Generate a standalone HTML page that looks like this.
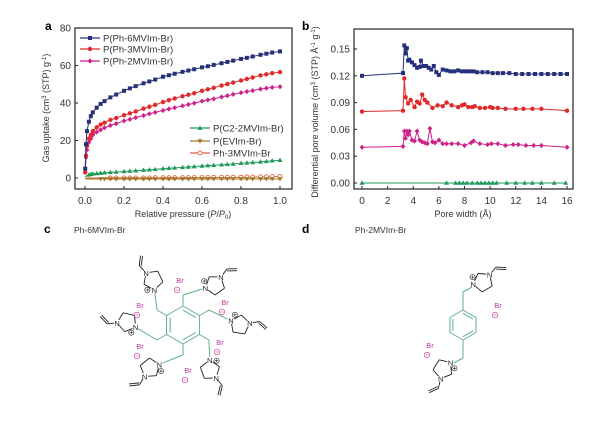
<!DOCTYPE html>
<html><head><meta charset="utf-8"><style>
body{margin:0;background:#fff;}
svg{display:block;font-family:"Liberation Sans",Arial,sans-serif;}
</style></head><body>
<svg id="fig" width="600" height="421" viewBox="0 0 600 421" xmlns="http://www.w3.org/2000/svg">
<g id="pa"></g>
<g id="pb"></g>
<g id="pc"></g>
<g id="pd"></g>
</svg>
<script>
// ---------- Panel a data ----------
const pressures=[0.001,0.005,0.01,0.02,0.03,0.04,0.06,0.08,0.1,0.13,0.16,0.2,0.23,0.26,0.3,0.33,0.36,0.4,0.43,0.46,0.5,0.53,0.56,0.6,0.63,0.66,0.7,0.73,0.76,0.8,0.83,0.86,0.9,0.93,0.96,1.0];
const uptake6=[5,18,25,30,33,35,37.5,39.5,41,43,44.5,46.5,47.8,49,50.5,51.5,52.5,54,54.8,55.6,56.6,57.3,58,59,59.6,60.3,61.2,61.9,62.6,63.5,64.1,64.8,65.7,66.3,66.9,67.5];
const uptake3=[3,12,17,21,23,25,27,28.5,29.5,31,32,33.5,34.5,35.5,37,38,39,40.5,41.5,42.4,43.6,44.4,45.2,46.5,47.3,48.1,49.3,50.1,50.9,52,52.8,53.6,54.7,55.3,55.9,56.5];
const uptake2=[3,11,15,19,21,23,24.5,25.7,26.8,28,29,30.5,31.3,32.2,33.3,34.2,35,36,36.8,37.5,38.5,39.2,39.9,41,41.6,42.2,43.2,43.9,44.6,45.5,46.1,46.6,47.4,47.9,48.3,48.7];
const uptakeC2=[0.5,1,1.3,1.7,2,2.2,2.4,2.6,2.8,3,3.2,3.5,3.7,3.9,4.2,4.4,4.6,5,5.2,5.4,5.7,5.9,6.1,6.4,6.6,6.8,7.1,7.3,7.5,7.9,8.1,8.3,8.6,8.9,9.2,9.5];
const uptakeEV=[-0.3,-0.5,-0.5,-0.5,-0.5,-0.5,-0.5,-0.5,-0.5,-0.5,-0.5,-0.5,-0.5,-0.5,-0.5,-0.5,-0.5,-0.5,-0.5,-0.5,-0.5,-0.5,-0.5,-0.5,-0.5,-0.5,-0.5,-0.5,-0.5,-0.5,-0.5,-0.5,-0.5,-0.5,-0.5,-0.5];
const uptakeMono=[0,0,0,0,0,0,0,0,0,0,0,0,0,0,0,0,0.1,0.1,0.1,0.1,0.1,0.2,0.2,0.2,0.2,0.3,0.3,0.3,0.4,0.4,0.5,0.5,0.6,0.6,0.7,0.8];
const aYTicks=[0,20,40,60,80];
const aXTicks=[0,0.2,0.4,0.6,0.8,1.0];
const aXLabels=["0.0","0.2","0.4","0.6","0.8","1.0"];
// ---------- Panel b data ----------
const pw6=[0,3.2,3.3,3.4,3.5,3.6,3.7,3.9,4.1,4.3,4.5,4.6,4.8,5.0,5.2,5.4,5.6,5.8,6.0,6.3,6.6,6.9,7.2,7.5,7.8,8.1,8.4,8.7,9.0,9.4,9.8,10.2,10.6,11,11.5,12,12.5,13,13.5,14,14.5,15,15.5,16];
const pv6=[.120,.123,.154,.145,.151,.137,.138,.135,.132,.129,.130,.137,.131,.131,.129,.127,.131,.124,.121,.127,.126,.125,.125,.126,.125,.125,.125,.125,.124,.124,.124,.123,.123,.123,.123,.122,.122,.122,.122,.122,.122,.122,.122,.122];
const pw3=[0,3.2,3.3,3.4,3.6,3.8,4.1,4.3,4.5,4.7,4.9,5.1,5.5,5.9,6.3,6.6,7.0,7.5,7.8,8.0,8.3,8.6,8.8,9.2,9.6,10.0,10.2,10.6,11.2,12,12.6,13.3,14,16];
const pv3=[.080,.081,.117,.096,.089,.093,.085,.091,.089,.099,.093,.090,.084,.087,.086,.090,.087,.085,.087,.088,.085,.085,.086,.084,.084,.085,.084,.084,.083,.083,.083,.083,.083,.081];
const pw2=[0,3.2,3.3,3.4,3.5,3.6,3.7,3.9,4.1,4.3,4.5,4.7,4.9,5.1,5.3,5.5,5.7,6.0,6.3,6.6,7.0,7.5,8.0,8.5,8.7,9.2,9.8,10.1,10.6,11.2,11.8,12.2,12.8,13.4,14,16];
const pv2=[.040,.041,.058,.050,.058,.054,.058,.048,.047,.058,.048,.046,.045,.044,.061,.046,.045,.048,.044,.044,.044,.044,.042,.045,.047,.044,.043,.044,.044,.042,.043,.043,.042,.042,.042,.040];
const pwC2=[0,6.6,7.3,7.6,7.9,8.2,8.6,9,9.3,9.6,9.9,10.2,10.5,11.3,12,12.7,13.3,14,15,15.9];
const pvC2=[0,0,0,0,0,0,0,0,0,0,0,0,0,0,0,0,0,0,0,0];
const bYTicks=[0,0.03,0.06,0.09,0.12,0.15];
const bYLabels=["0.00","0.03","0.06","0.09","0.12","0.15"];
const bXTicks=[0,2,4,6,8,10,12,14,16];

const NS="http://www.w3.org/2000/svg";
function mk(parent,tag,attrs,txt){const e=document.createElementNS(NS,tag);for(const k in attrs)e.setAttribute(k,attrs[k]);if(txt!==undefined)e.textContent=txt;parent.appendChild(e);return e;}

function marker(g,type,x,y,c){
  let e;
  if(type==='sq')e=mk(g,'rect',{x:x-2,y:y-2,width:4,height:4,fill:c});
  else if(type==='ci')e=mk(g,'circle',{cx:x,cy:y,r:2.2,fill:c});
  else if(type==='oc')e=mk(g,'circle',{cx:x,cy:y,r:2.1,fill:'#fff',stroke:c,'stroke-width':0.9});
  else if(type==='di')e=mk(g,'polygon',{points:`${x},${y-2.6} ${x+2.4},${y} ${x},${y+2.6} ${x-2.4},${y}`,fill:c});
  else if(type==='tu')e=mk(g,'polygon',{points:`${x},${y-2.6} ${x+2.5},${y+1.8} ${x-2.5},${y+1.8}`,fill:c});
  else e=mk(g,'polygon',{points:`${x},${y+2.6} ${x+2.5},${y-1.8} ${x-2.5},${y-1.8}`,fill:c});
  
  
}
function series(g,xs,ys,sx,sy,c,type,name,every){
  const s=mk(g,'g',{});
  
  
  const pts=xs.map((v,i)=>sx(v)+','+sy(ys[i])).join(' ');
  mk(s,'polyline',{points:pts,fill:'none',stroke:c,'stroke-width':1});
  xs.forEach((v,i)=>{ if(!every||every(i)) marker(s,type,sx(v),sy(ys[i]),c); });
}

// ----- Panel a -----
(function(){
  const g=document.getElementById('pa');
  const L=75,R=292,T=28,B=189;
  const sx=v=>85+v*(280-85), sy=v=>178-v*(178-28)/80;
  mk(g,'rect',{x:L,y:T,width:R-L,height:B-T,fill:'none',stroke:'#222','stroke-width':1.2,});
  aYTicks.forEach(v=>{mk(g,'line',{x1:L,x2:L+3,y1:sy(v),y2:sy(v),stroke:'#222'});mk(g,'text',{x:L-4,y:sy(v)+3.5,'font-size':10,'text-anchor':'end',fill:'#333',},String(v));});
  aXTicks.forEach((v,i)=>{mk(g,'line',{x1:sx(v),x2:sx(v),y1:B,y2:B-3,stroke:'#222'});mk(g,'text',{x:sx(v),y:B+15,'font-size':10,'text-anchor':'middle',fill:'#333',},aXLabels[i]);});
  mk(g,'text',{x:45,y:30,'font-size':12,'font-weight':'bold',},'a');
  const yt=mk(g,'text',{x:0,y:0,'font-size':9,'text-anchor':'middle',fill:'#333',transform:'translate(49,108) rotate(-90)',});
  yt.innerHTML='Gas uptake (cm<tspan dy="-3" font-size="6">3</tspan><tspan dy="3"> (STP) g</tspan><tspan dy="-3" font-size="6">-1</tspan><tspan dy="3">)</tspan>';
  const xt=mk(g,'text',{x:183,y:217,'font-size':9,'text-anchor':'middle',fill:'#333',});
  xt.innerHTML='Relative pressure (<tspan font-style="italic">P</tspan>/<tspan font-style="italic">P</tspan><tspan dy="2" font-size="6">0</tspan><tspan dy="-2">)</tspan>';
  series(g,pressures,uptakeMono,sx,sy,'#e0603a','oc','series-ph-3mvim-br',i=>i>=9);
  series(g,pressures,uptakeEV,sx,sy,'#a07a28','td','series-p-evim-br',i=>i>=7);
  series(g,pressures,uptakeC2,sx,sy,'#1f9a5a','tu','series-p-c2-2mvim-br',i=>i>=3);
  series(g,pressures,uptake2,sx,sy,'#d0208a','di','series-p-ph-2mvim-br');
  series(g,pressures,uptake3,sx,sy,'#e02a2a','ci','series-p-ph-3mvim-br');
  series(g,pressures,uptake6,sx,sy,'#26307a','sq','series-p-ph-6mvim-br');
  const leg=[[80,38,'#26307a','sq','P(Ph-6MVIm-Br)'],[80,49,'#e02a2a','ci','P(Ph-3MVIm-Br)'],[80,61,'#d0208a','di','P(Ph-2MVIm-Br)'],
             [190,128,'#1f9a5a','tu','P(C2-2MVIm-Br)'],[190,141,'#a07a28','td','P(EVIm-Br)'],[190,153,'#e0603a','oc','Ph-3MVIm-Br']];
  leg.forEach(l=>{const e=mk(g,'g',{});
    mk(e,'line',{x1:l[0],x2:l[0]+20,y1:l[1],y2:l[1],stroke:l[2],'stroke-width':1.2});marker(e,l[3],l[0]+10,l[1],l[2]);
    mk(e,'text',{x:l[0]+23,y:l[1]+3.5,'font-size':9.5,fill:'#333'},l[4]);});
})();

// ----- Panel b -----
(function(){
  const g=document.getElementById('pb');
  const L=354,R=573,T=29,B=189;
  const sx=v=>362+v*(567-362)/16, sy=v=>183-v*(183-49)/0.15;
  mk(g,'rect',{x:L,y:T,width:R-L,height:B-T,fill:'none',stroke:'#222','stroke-width':1.2,});
  bYTicks.forEach((v,i)=>{mk(g,'line',{x1:L,x2:L+3,y1:sy(v),y2:sy(v),stroke:'#222'});mk(g,'text',{x:L-4,y:sy(v)+3.5,'font-size':10,'text-anchor':'end',fill:'#333',},bYLabels[i]);});
  bXTicks.forEach(v=>{mk(g,'line',{x1:sx(v),x2:sx(v),y1:B,y2:B-3,stroke:'#222'});mk(g,'text',{x:sx(v),y:B+15,'font-size':10,'text-anchor':'middle',fill:'#333',},String(v));});
  mk(g,'text',{x:302,y:30,'font-size':12,'font-weight':'bold',},'b');
  const yt=mk(g,'text',{x:0,y:0,'font-size':9,'text-anchor':'middle',fill:'#333',transform:'translate(318,112) rotate(-90)',});
  yt.innerHTML='Differential pore volume (cm<tspan dy="-3" font-size="6">3</tspan><tspan dy="3"> (STP) Å</tspan><tspan dy="-3" font-size="6">-1</tspan><tspan dy="3"> g</tspan><tspan dy="-3" font-size="6">-1</tspan><tspan dy="3">)</tspan>';
  mk(g,'text',{x:463,y:217,'font-size':9,'text-anchor':'middle',fill:'#333',},'Pore width (Å)');
  series(g,pwC2,pvC2,sx,sy,'#1f9a5a','tu','series-p-c2-2mvim-br');
  series(g,pw2,pv2,sx,sy,'#d0208a','di','series-p-ph-2mvim-br');
  series(g,pw3,pv3,sx,sy,'#e02a2a','ci','series-p-ph-3mvim-br');
  series(g,pw6,pv6,sx,sy,'#26307a','sq','series-p-ph-6mvim-br');
})();

// ----- Chemical structures -----
const GR='#5fb08a', PK='#c0389a';
function line(g,x1,y1,x2,y2,c,w){mk(g,'line',{x1,y1,x2,y2,stroke:c||'#222','stroke-width':w||0.9});}
function txt(g,x,y,s,c,fs){mk(g,'text',{x,y:y+3,'font-size':fs||7.5,'text-anchor':'middle',fill:c||'#222'},s);}
function ring(g,cx,cy,ang){
  const r=10,v=[];
  for(let k=0;k<5;k++){const a=ang+k*2*Math.PI/5;v.push([cx+r*Math.cos(a),cy+r*Math.sin(a)]);}
  for(let k=0;k<5;k++){const a=v[k],b=v[(k+1)%5];line(g,a[0],a[1],b[0],b[1]);}
  const n2=v[2];
  mk(g,'circle',{cx:v[0][0],cy:v[0][1],r:3.5,fill:'#fff'});mk(g,'circle',{cx:n2[0],cy:n2[1],r:3.5,fill:'#fff'});
  txt(g,v[0][0],v[0][1],'N');txt(g,n2[0],n2[1],'N');
  const px=v[0][0]+7*Math.cos(ang+1.7),py=v[0][1]+7*Math.sin(ang+1.7);
  mk(g,'circle',{cx:px,cy:py,r:2.6,fill:'#fff',stroke:'#222','stroke-width':0.6});line(g,px-1.6,py,px+1.6,py,'#222',0.6);line(g,px,py-1.6,px,py+1.6,'#222',0.6);
  const oa=Math.atan2(n2[1]-cy,n2[0]-cx);
  const p1=[n2[0]+10*Math.cos(oa),n2[1]+10*Math.sin(oa)];
  const p2=[p1[0]+10*Math.cos(oa+0.9),p1[1]+10*Math.sin(oa+0.9)];
  line(g,n2[0]+3*Math.cos(oa),n2[1]+3*Math.sin(oa),p1[0],p1[1]);line(g,p1[0],p1[1],p2[0],p2[1]);
  line(g,p1[0]+2*Math.cos(oa+0.9+1.57),p1[1]+2*Math.sin(oa+0.9+1.57),p2[0]+2*Math.cos(oa+0.9+1.57),p2[1]+2*Math.sin(oa+0.9+1.57));
  return v[0];
}
function br(g,x,y){txt(g,x,y,'Br',PK,7.5);const mx=x-3,my=y+10;mk(g,'circle',{cx:mx,cy:my,r:2.8,fill:'none',stroke:PK,'stroke-width':0.6});line(g,mx-1.6,my,mx+1.6,my,PK,0.6);}
function hexagon(g,cx,cy,r,rot){const v=[];for(let k=0;k<6;k++){const a=rot+k*Math.PI/3;v.push([cx+r*Math.cos(a),cy+r*Math.sin(a)]);}
  for(let k=0;k<6;k++){const a=v[k],b=v[(k+1)%6];line(g,a[0],a[1],b[0],b[1],GR,1);
    if(k%2===0){const ia=[cx+(a[0]-cx)*0.78,cy+(a[1]-cy)*0.78],ib=[cx+(b[0]-cx)*0.78,cy+(b[1]-cy)*0.78];line(g,ia[0],ia[1],ib[0],ib[1],GR,1);}}
  return v;}
(function(){
  const g=document.getElementById('pc');
  mk(g,'text',{x:44,y:233,'font-size':12,'font-weight':'bold',},'c');
  mk(g,'text',{x:74,y:233,'font-size':8.5,fill:'#333',},'Ph-6MVIm-Br');
  const m=mk(g,'g',{});
  const hv=hexagon(m,183,325,19,-Math.PI/2);
  const rings=[[153,280],[215,285],[240,325],[127,322],[150,368],[210,370]];
  const hidx=[5,0,1,4,3,2];
  rings.forEach((rc,i)=>{
    const h=hv[hidx[i]];
    const ca=Math.atan2(h[1]-325,h[0]-183);
    const mid=[h[0]+11*Math.cos(ca),h[1]+11*Math.sin(ca)];
    line(m,h[0],h[1],mid[0],mid[1],GR,1);
    const ang=Math.atan2(mid[1]-rc[1],mid[0]-rc[0]);
    const n=[rc[0]+10*Math.cos(ang),rc[1]+10*Math.sin(ang)];
    line(m,mid[0],mid[1],n[0],n[1],GR,1);
    ring(m,rc[0],rc[1],ang);
  });
  [[180,280],[225,302],[220,342],[140,305],[140,346],[188,370]].forEach(p=>br(m,p[0],p[1]));
})();
(function(){
  const g=document.getElementById('pd');
  mk(g,'text',{x:302,y:233,'font-size':12,'font-weight':'bold',},'d');
  mk(g,'text',{x:355,y:233,'font-size':8.5,fill:'#333',},'Ph-2MVIm-Br');
  const m=mk(g,'g',{});
  const hv=hexagon(m,463,325,15,-Math.PI/2);
  line(m,hv[0][0],hv[0][1],463,292,GR,1);line(m,463,292,474,286,GR,1);ring(m,483,282,Math.atan2(286-282,474-483)+0.2);
  line(m,hv[3][0],hv[3][1],463,358,GR,1);line(m,463,358,452,364,GR,1);ring(m,443,369,Math.atan2(364-369,452-443)-0.2);
  br(m,498,305);br(m,430,345);
})();
</script>
</body></html>
